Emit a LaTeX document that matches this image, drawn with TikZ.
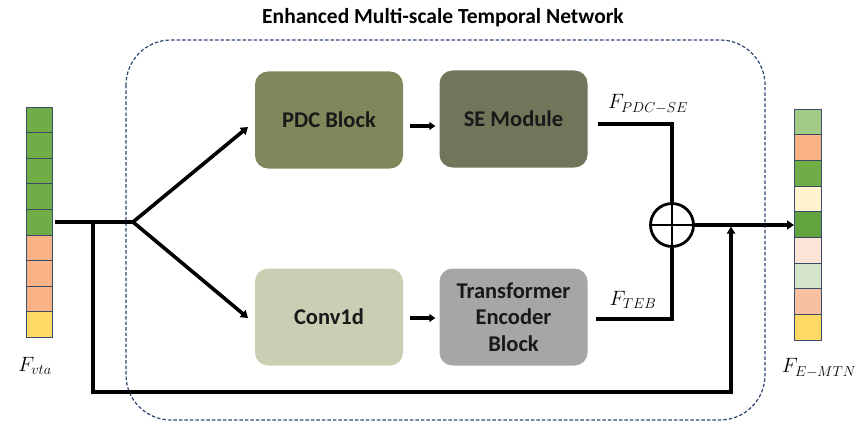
\documentclass[tikz,border=0pt]{standalone}
\usepackage{fontspec}
\setmainfont{Carlito}
\usetikzlibrary{arrows.meta,calc}
\definecolor{cgreen}{HTML}{70AD47}
\definecolor{cdgreen}{HTML}{62A23F}
\definecolor{cpeach}{HTML}{F9B186}
\definecolor{cyellow}{HTML}{FFD966}
\definecolor{clgreen}{HTML}{A2CB86}
\definecolor{clyellow}{HTML}{FFF2CC}
\definecolor{clpeach}{HTML}{FCE4D6}
\definecolor{cpgreen}{HTML}{D5E5CC}
\definecolor{cpeach2}{HTML}{F8C0A0}
\definecolor{cellline}{HTML}{3A4C68}
\definecolor{dashc}{HTML}{2E4672}
\definecolor{pdcc}{HTML}{80875A}
\definecolor{sec}{HTML}{73755B}
\definecolor{convc}{HTML}{CACFB4}
\definecolor{tebc}{HTML}{A6A6A6}
\tikzset{
  cell/.style={draw=cellline, line width=0.7pt, minimum width=26pt, minimum height=25.6pt, inner sep=0pt, outer sep=0pt},
  rcell/.style={draw=cellline, line width=0.7pt, minimum width=27pt, minimum height=25.67pt, inner sep=0pt, outer sep=0pt},
  blk/.style={rounded corners=13pt, minimum width=148pt, minimum height=97pt, inner sep=2pt, align=center, font=\fontsize{22.5}{26.5}\selectfont\bfseries, text=black!90},
  ln/.style={line width=3.2pt, black},
  arr/.style={line width=3.6pt, black, -{Triangle[length=7pt,width=9pt]}},
  sarr/.style={line width=3.4pt, black, -{Triangle[length=6pt,width=8pt]}},
  lbl/.style={font=\fontsize{20}{24}\selectfont},
}
\begin{document}
\begin{tikzpicture}[x=1pt,y=-1pt]
\useasboundingbox (0,0) rectangle (858,425);
% dashed container
\draw[dashc, line width=1.2pt, dash pattern=on 3.5pt off 2pt, rounded corners=45pt] (126,40) rectangle (765,420);
\node[font=\fontsize{21.5}{24}\selectfont\bfseries] (title) at (443,18) {Enhanced Multi-scale Temporal Network};
% left stack
\foreach \i/\c in {1/cgreen,2/cgreen,3/cgreen,4/cgreen,5/cgreen,6/cpeach,7/cpeach,8/cpeach,9/cyellow}{
  \node[cell, fill=\c] (l\i) at (39, {107+(\i-0.5)*25.6}) {};
}
\node[lbl] (fvta) at (35,366) {$F_{vta}$};
% right stack
\foreach \i/\c in {1/clgreen,2/cpeach,3/cgreen,4/clyellow,5/cdgreen,6/clpeach,7/cpgreen,8/cpeach2,9/cyellow}{
  \node[rcell, fill=\c] (r\i) at (807.5, {109+(\i-0.5)*25.67}) {};
}
\node[lbl] (femtn) at (819,368) {$F_{E-MTN}$};
% blocks
\node[blk, fill=pdcc] (pdc) at (329,120) {PDC Block};
\node[blk, fill=sec] (se) at (513.5,119) {SE Module};
\node[blk, fill=convc] (conv) at (329,317) {Conv1d};
\node[blk, fill=tebc] (teb) at (513.5,317) {Transformer\\Encoder\\Block};
% oplus
\node[circle, draw, line width=2.8pt, minimum size=43pt, inner sep=0pt] (op) at (672,225) {};
\draw[line width=2.8pt] (op.north) -- (op.south) (op.west) -- (op.east);
% coordinates
\coordinate (in) at (55,222);
\coordinate (split) at (93,222);
\coordinate (fork) at (133,222);
\coordinate (up) at (248,127);
\coordinate (dn) at (248,318);
\coordinate (join) at (731,225);
% input and fork
\draw[ln] (in) -- (fork);
\draw[arr] (fork) -- (up);
\draw[arr] (fork) -- (dn);
% between blocks
\draw[sarr] ([xshift=7pt]pdc.east |- 0,126) -- ([xshift=-4pt]se.west |- 0,126);
\draw[sarr] ([xshift=7pt]conv.east |- 0,318) -- ([xshift=-4pt]teb.west |- 0,318);
% to oplus
\draw[ln] ([xshift=10pt]se.east |- 0,124) -- (op.north |- 0,124) -- (op.north);
\draw[ln] ([xshift=8pt]teb.east |- 0,319) -- (op.south |- 0,319) -- (op.south);
\node[lbl] (fpdc) at (648,104) {$F_{PDC-SE}$};
\node[lbl] (fteb) at (633,300) {$F_{TEB}$};
% output
\draw[arr] (op.east) -- (op.east -| r5.west);
% bypass
\draw[line width=3.2pt, -{Triangle[length=7pt,width=8pt]}] (split) -- (split |- 0,392) -- (join |- 0,392) -- ([yshift=-1.5pt]join);
\end{tikzpicture}
\end{document}
